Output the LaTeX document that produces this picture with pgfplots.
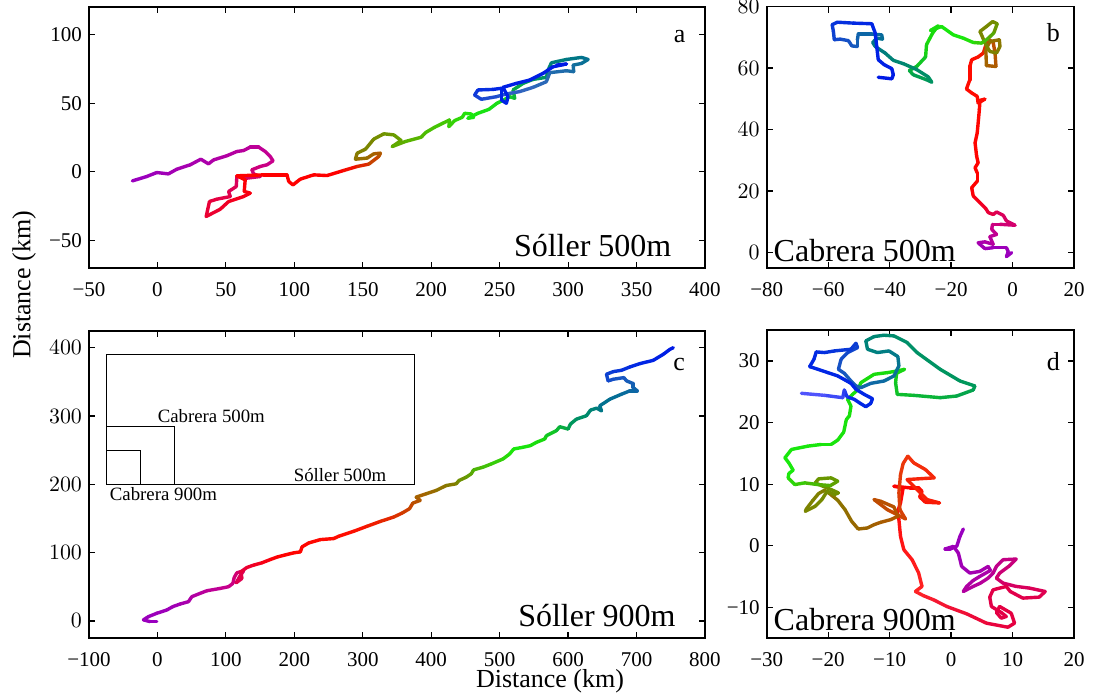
\documentclass[border=0pt]{standalone}
\usepackage{fontspec}
\setmainfont{Liberation Serif}
\usepackage{pgfplots}
\pgfplotsset{compat=1.18}
\pgfplotsset{
  colormap={mapa}{rgb(0pt)=(0.6,0,0.75) rgb(17pt)=(0.78,0,0.55) rgb(27pt)=(0.88,0,0.3) rgb(37pt)=(1,0,0) rgb(46pt)=(1,0,0) rgb(49pt)=(0.75,0.3,0) rgb(55pt)=(0.5,0.5,0) rgb(62pt)=(0.35,0.7,0) rgb(72pt)=(0.1,0.92,0.05) rgb(78pt)=(0.1,0.85,0.1) rgb(82pt)=(0,0.6,0.35) rgb(88pt)=(0,0.45,0.55) rgb(97pt)=(0.2,0.4,0.75) rgb(104pt)=(0,0.15,0.9) rgb(115pt)=(0,0.1,0.9)},
  colormap={mapb}{rgb(0pt)=(0.6,0,0.75) rgb(5pt)=(0.62,0,0.72) rgb(11pt)=(0.78,0,0.55) rgb(18pt)=(0.88,0,0.3) rgb(23pt)=(1,0,0) rgb(42pt)=(1,0.05,0) rgb(46pt)=(0.75,0.3,0) rgb(54pt)=(0.5,0.5,0) rgb(60pt)=(0.45,0.55,0) rgb(65pt)=(0.1,0.92,0.05) rgb(71pt)=(0.1,0.85,0.05) rgb(76pt)=(0,0.6,0.35) rgb(85pt)=(0,0.45,0.55) rgb(92pt)=(0.1,0.35,0.75) rgb(100pt)=(0,0.15,0.9) rgb(108pt)=(0,0.1,0.9)},
  colormap={mapc}{rgb(0pt)=(0.6,0,0.75) rgb(6pt)=(0.62,0,0.72) rgb(13pt)=(0.78,0,0.55) rgb(20pt)=(0.88,0,0.3) rgb(26pt)=(1,0,0) rgb(35pt)=(1,0.05,0) rgb(41pt)=(0.75,0.3,0) rgb(47pt)=(0.5,0.5,0) rgb(56pt)=(0.1,0.92,0.05) rgb(60pt)=(0.1,0.85,0.05) rgb(65pt)=(0,0.6,0.35) rgb(71pt)=(0,0.45,0.55) rgb(79pt)=(0.1,0.35,0.75) rgb(86pt)=(0,0.15,0.9) rgb(90pt)=(0,0.1,0.9)},
  colormap={mapd}{rgb(0pt)=(0.6,0,0.75) rgb(6pt)=(0.62,0,0.72) rgb(18pt)=(0.72,0,0.6) rgb(30pt)=(0.88,0,0.3) rgb(44pt)=(0.9,0,0.25) rgb(50pt)=(1,0.15,0.15) rgb(60pt)=(1,0,0) rgb(72pt)=(0.95,0.2,0.05) rgb(80pt)=(0.75,0.3,0) rgb(88pt)=(0.6,0.4,0) rgb(94pt)=(0.5,0.5,0) rgb(108pt)=(0.4,0.6,0) rgb(114pt)=(0.1,0.92,0.05) rgb(134pt)=(0.1,0.85,0.05) rgb(142pt)=(0,0.6,0.35) rgb(152pt)=(0,0.5,0.5) rgb(162pt)=(0.1,0.35,0.75) rgb(172pt)=(0,0.15,0.9) rgb(185pt)=(0,0.15,0.9) rgb(190pt)=(0.35,0.35,1)},
  myaxis/.style={
    scale only axis, anchor=south west,
    axis line style={line width=0.9pt},
    every tick/.style={black, line width=0.6pt},
    major tick length=3pt,
    tick align=inside,
    xtick pos=both, ytick pos=both,
    tick label style={font=\fontsize{10.5}{12}\selectfont},
    xticklabel style={anchor=base, yshift=-14.4pt},
    yticklabel style={anchor=east},
  },
  trajline/.style={mesh, point meta=\coordindex, line width=1.7pt, line cap=round, line join=round},
}
\begin{document}
\begin{tikzpicture}
\useasboundingbox (0,0) rectangle (548.5pt,350pt);
% ---------------- panel a
\begin{axis}[myaxis, colormap name=mapa, at={(44.5pt,216pt)}, width=308pt, height=130.5pt,
  xmin=-50, xmax=400, ymin=-70, ymax=120,
  xtick={-50,0,50,100,150,200,250,300,350,400},
  xticklabels={−50,0,50,100,150,200,250,300,350,400},
  ytick={-50,0,50,100}, yticklabels={−50,0,50,100}]
\addplot[trajline] coordinates {
(-18.3,-6.6) (-7.8,-3.4) (-0.5,-0.5) (8.0,-1.5) (14.1,1.9) (23.9,5.1) (31.7,9.2) (37.3,5.8) (41.0,8.7) (50.7,11.7) (58.0,14.8) (62.9,15.5) (67.8,18.0) (73.9,18.0) (78.8,14.8) (82.4,11.2) (84.4,8.0) (80.0,5.1) (75.1,3.9) (69.0,1.5) (70.2,-1.5) (75.1,-3.4) (65.4,-4.6) (58.0,-3.4) (57.6,-10.7) (52.0,-14.3) (53.2,-18.0) (43.4,-19.9) (38.0,-21.6) (35.6,-32.5) (45.9,-27.2) (52.0,-21.6) (62.9,-18.0) (67.8,-15.5) (63.4,-14.3) (64.1,-5.8) (58.0,-2.9) (77.6,-2.2) (94.6,-2.2) (95.9,-7.0) (99.0,-9.5) (104.4,-5.3) (114.1,-2.2) (123.9,-2.7) (136.1,1.0) (145.9,3.9) (154.4,5.6) (161.7,11.2) (162.9,13.6) (158.0,13.1) (153.2,10.0) (144.6,9.2) (145.9,13.6) (152.0,16.5) (158.0,23.8) (165.4,27.7) (172.7,26.9) (178.0,22.8) (171.5,18.4) (181.2,22.1) (192.7,25.2) (195.9,28.6) (202.4,32.4) (213.4,37.8) (212.9,32.9) (217.1,37.3) (222.7,39.7) (224.4,42.6) (229.3,42.1) (231.0,39.7) (226.8,39.0) (234.1,42.6) (242.2,45.5) (248.0,49.9) (252.9,52.3) (257.3,54.7) (261.0,53.5) (259.8,59.6) (267.1,64.4) (274.4,67.3) (284.1,68.8) (285.4,74.1) (287.8,79.4) (298.8,81.8) (309.8,83.3) (314.6,81.8) (309.8,78.9) (303.7,77.7) (304.1,72.9) (298.8,73.6) (286.6,72.2) (284.1,65.6) (274.4,61.5) (264.6,58.4) (254.9,56.7) (247.6,54.7) (236.6,52.8) (231.7,55.9) (234.1,59.6) (245.1,60.0) (251.2,60.8) (251.2,52.3) (254.9,49.9) (256.1,54.7) (252.4,61.5) (262.2,64.4) (271.9,66.8) (281.7,71.7) (289.0,76.5) (298.8,78.5) (291.5,77.7)
};
\node[anchor=base, font=\fontsize{13}{15}\selectfont] at (rel axis cs:0.959,0.865) {a};
\node[anchor=base east, inner sep=0pt, font=\fontsize{16}{19}\selectfont] at (rel axis cs:0.946,0.043) {Sóller 500m};
\end{axis}
% ---------------- panel b
\begin{axis}[myaxis, colormap name=mapb, at={(383.35pt,216pt)}, width=153.65pt, height=130.75pt,
  xmin=-80, xmax=20, ymin=-5, ymax=80,
  xtick={-80,-60,-40,-20,0,20},
  xticklabels={−80,−60,−40,−20,0,20},
  ytick={0,20,40,60,80}]
\addplot[trajline] coordinates {
(-0.3,0) (-2.0,-1.3) (-1.4,0.3) (-2.0,1.6) (-6.3,1.6) (-9.0,1.3) (-11.2,3.2) (-9.0,3.5) (-6.3,2.7) (-7.4,5.2) (-5.2,5.9) (-6.8,7.6) (-6.5,9.2) (-4.1,9.2) (0.8,8.9) (-2.0,10.3) (-3.0,12.1) (-5.2,13.2) (-6.3,12.4) (-7.9,13.0) (-8.7,14.3) (-10.6,16.2) (-12.8,18.4) (-13.3,21.1) (-11.5,23.2) (-11.5,25.9) (-12.2,27.6) (-11.2,29.2) (-11.7,31.4) (-12.2,35.7) (-11.5,38.9) (-11.1,43.2) (-10.8,46.5) (-10.6,49.5) (-9.0,49.9) (-11.2,48.6) (-11.5,50.8) (-13.3,51.9) (-15.0,53.2) (-13.9,56.2) (-13.9,60.5) (-13.3,62.7) (-11.2,63.6) (-9.5,64.9) (-8.5,68.1) (-7.9,69.4) (-6.3,68.3) (-5.7,64.9) (-5.4,60.5) (-8.5,60.8) (-8.7,65.9) (-7.4,68.6) (-4.3,69.2) (-4.1,67.0) (-5.2,64.9) (-7.4,65.4) (-8.7,67.6) (-10.6,71.9) (-8.5,73.5) (-6.5,75.1) (-5.0,74.4) (-6.1,71.4) (-8.2,69.4) (-10.1,68.1) (-12.8,68.3) (-16.0,69.7) (-19.3,70.8) (-23.1,73.5) (-26.7,72.2) (-24.2,73.7) (-26.0,71.4) (-28.0,67.6) (-28.3,63.6) (-31.2,60.5) (-33.6,59.2) (-32.3,57.8) (-28.0,56.2) (-26.3,55.4) (-27.4,57.1) (-31.2,59.5) (-35.5,61.4) (-38.8,62.5) (-41.5,64.9) (-44.7,67.0) (-45.5,68.3) (-44.2,69.7) (-42.3,69.4) (-42.6,70.8) (-45.8,71.0) (-50.2,71.0) (-50.5,69.2) (-50.5,67.0) (-52.3,67.2) (-53.4,68.9) (-56.1,69.4) (-58.0,69.2) (-58.3,71.9) (-58.7,74.1) (-57.0,74.9) (-51.8,74.6) (-45.8,74.4) (-44.7,71.4) (-44.2,67.0) (-43.7,62.7) (-41.8,61.1) (-39.3,59.8) (-38.8,57.8) (-39.3,56.5) (-43.7,57.0)
};
\node[anchor=base, font=\fontsize{13}{15}\selectfont] at (rel axis cs:0.933,0.865) {b};
\node[anchor=base west, inner sep=0pt, font=\fontsize{16}{19}\selectfont] at (rel axis cs:0.0215,0.024) {Cabrera 500m};
\end{axis}
% ---------------- panel c
\begin{axis}[myaxis, colormap name=mapc, at={(44.5pt,31pt)}, width=308pt, height=153.65pt,
  xmin=-100, xmax=800, ymin=-25, ymax=425,
  xtick={-100,0,100,200,300,400,500,600,700,800},
  xticklabels={−100,0,100,200,300,400,500,600,700,800},
  ytick={0,100,200,300,400}]
\addplot[black, line width=0.5pt] coordinates {(-75,200) (375,200) (375,390) (-75,390) (-75,200)};
\addplot[black, line width=0.5pt] coordinates {(-75,200) (25,200) (25,285) (-75,285) (-75,200)};
\addplot[black, line width=0.5pt] coordinates {(-75,200) (-25,200) (-25,250) (-75,250) (-75,200)};
\node[anchor=base west, inner sep=0pt, font=\fontsize{9.4}{11}\selectfont] at (axis cs:0,290) {Cabrera 500m};
\node[anchor=base west, inner sep=0pt, font=\fontsize{9.4}{11}\selectfont] at (axis cs:-70,176.5) {Cabrera 900m};
\node[anchor=base east, inner sep=0pt, font=\fontsize{9.4}{11}\selectfont] at (axis cs:335,204.6) {Sóller 500m};
\addplot[trajline] coordinates {
(-1.0,-1.0) (-10.7,-1.0) (-20.5,1.5) (-13.2,6.3) (-1.0,11.2) (13.7,16.0) (22.4,20.9) (33.2,24.8) (45.4,28.2) (50.2,35.5) (62.4,40.4) (72.2,44.2) (91.7,47.6) (103.9,50.1) (110.2,54.9) (112.2,63.7) (116.1,70.5) (125.9,73.4) (120.0,64.7) (115.1,55.9) (123.4,62.2) (122.0,72.0) (130.7,78.3) (140.5,81.7) (152.7,85.1) (164.9,89.9) (175.6,93.8) (185.4,96.3) (199.0,99.7) (208.8,101.1) (211.2,108.4) (221.0,114.2) (238.0,119.1) (257.6,120.6) (264.9,124.0) (286.8,131.3) (306.3,138.6) (325.9,145.8) (345.4,152.2) (357.6,158.0) (368.3,164.3) (373.2,172.6) (383.9,176.5) (378.0,181.3) (392.7,186.2) (407.3,191.1) (422.0,198.3) (436.6,200.8) (440.5,205.6) (451.2,210.5) (458.5,215.4) (461.9,221.2) (475.6,225.1) (487.8,229.9) (504.9,237.2) (514.6,244.5) (520.5,251.8) (534.1,254.3) (544.9,256.7) (553.7,261.5) (565.9,266.4) (568.3,271.3) (582.9,278.6) (587.8,284.4) (600.0,281.0) (603.4,288.3) (612.2,295.6) (626.8,300.4) (632.7,308.7) (641.5,311.6) (648.8,307.7) (646.3,315.0) (661.0,324.7) (678.0,332.0) (690.2,336.9) (701.0,336.9) (695.1,341.8) (695.1,347.6) (685.4,351.5) (681.5,356.3) (665.9,353.9) (658.5,351.5) (656.1,361.2) (665.9,365.1) (678.0,367.0) (690.2,371.9) (704.9,376.8) (724.4,381.6) (739.0,390.4) (748.8,397.7) (753.7,400.1)
};
\node[anchor=base, font=\fontsize{13}{15}\selectfont] at (rel axis cs:0.958,0.872) {c};
\node[anchor=base east, inner sep=0pt, font=\fontsize{16}{19}\selectfont] at (rel axis cs:0.953,0.037) {Sóller 900m};
\end{axis}
% ---------------- panel d
\begin{axis}[myaxis, colormap name=mapd, at={(383.35pt,31pt)}, width=153.65pt, height=153.85pt,
  xmin=-30, xmax=20, ymin=-15, ymax=35,
  xtick={-30,-20,-10,0,10,20},
  xticklabels={−30,−20,−10,0,10,20},
  ytick={-10,0,10,20,30}, yticklabels={−10,0,10,20,30}]
\addplot[trajline] coordinates {
(1.99,2.71) (1.45,1.52) (0.91,-0.11) (-0.16,-0.54) (-0.97,-0.54) (0.38,-0.11) (1.18,-1.19) (1.72,-3.37) (3.06,-4.45) (4.68,-4.18) (6.02,-3.37) (6.40,-4.02) (4.68,-4.99) (3.60,-5.65) (2.53,-6.62) (1.99,-7.44) (3.60,-6.62) (4.78,-6.08) (6.02,-5.27) (6.83,-4.45) (7.37,-3.37) (8.44,-2.28) (10.59,-2.17) (9.52,-3.26) (7.90,-4.45) (7.37,-5.27) (8.44,-6.08) (10.59,-6.62) (12.74,-6.89) (15.32,-7.44) (14.35,-8.36) (11.67,-8.52) (9.62,-7.44) (8.98,-6.62) (6.83,-7.17) (6.29,-8.36) (6.56,-9.88) (8.17,-10.86) (8.98,-11.51) (8.17,-11.78) (7.37,-10.86) (7.90,-9.88) (9.78,-10.97) (10.32,-12.59) (9.25,-13.25) (5.75,-12.59) (2.53,-11.07) (-0.70,-9.88) (-2.85,-8.79) (-4.46,-8.14) (-5.81,-7.44) (-4.73,-6.62) (-5.27,-4.45) (-6.34,-2.28) (-7.69,-0.65) (-8.23,1.52) (-8.49,4.23) (-8.76,5.32) (-8.23,6.95) (-7.80,9.39) (-9.30,9.66) (-6.61,9.39) (-5.27,9.39) (-4.73,8.85) (-5.11,7.93) (-4.19,7.06) (-1.88,6.95) (-3.92,7.49) (-7.15,10.75) (-2.74,11.02) (-4.19,12.38) (-6.08,13.46) (-7.04,14.55) (-7.80,13.36) (-8.23,11.56) (-8.49,8.58) (-8.33,5.86) (-7.42,4.34) (-8.76,5.05) (-10.38,5.86) (-12.53,7.49) (-11.45,7.22) (-9.30,6.30) (-8.66,4.78) (-9.84,4.23) (-11.45,3.80) (-12.53,3.42) (-13.60,2.88) (-15.11,2.71) (-16.18,3.96) (-17.26,5.86) (-18.44,7.38) (-19.78,8.47) (-20.59,9.01) (-21.56,8.47) (-22.47,7.38) (-23.55,5.97) (-23.71,5.59) (-22.10,6.41) (-21.02,7.49) (-20.16,8.85) (-18.98,8.31) (-18.33,8.58) (-19.52,9.12) (-20.86,9.66) (-22.10,10.21) (-21.56,10.86) (-19.52,11.02) (-18.44,10.48) (-19.62,9.77) (-21.67,9.93) (-23.82,10.21) (-25.43,9.93) (-26.51,11.02) (-26.40,11.73) (-25.70,12.27) (-26.40,13.46) (-27.04,14.28) (-25.97,15.64) (-23.28,16.18) (-21.13,16.45) (-19.52,16.45) (-18.44,17.16) (-17.47,18.46) (-17.04,20.52) (-16.56,21.06) (-16.29,22.69) (-16.83,23.78) (-16.02,24.59) (-15.11,25.41) (-14.68,26.49) (-12.53,27.85) (-10.38,28.12) (-8.76,28.39) (-7.58,28.66) (-8.87,28.01) (-9.03,26.49) (-8.76,24.59) (-6.08,24.43) (-1.77,24.05) (0.91,24.32) (3.60,25.30) (3.87,25.95) (1.45,26.76) (-1.77,28.66) (-5.54,31.38) (-7.15,33.01) (-9.30,34.09) (-10.91,34.20) (-12.53,33.98) (-13.87,33.28) (-13.60,31.92) (-11.99,31.38) (-10.11,31.65) (-8.66,30.73) (-8.49,29.21) (-9.30,27.58) (-10.91,26.76) (-13.06,26.38) (-14.68,25.68) (-15.48,25.95) (-16.29,26.76) (-17.37,28.01) (-18.33,28.66) (-17.90,30.29) (-16.83,31.38) (-15.22,32.19) (-15.48,32.90) (-16.29,31.92) (-18.98,31.65) (-20.59,31.38) (-21.94,31.49) (-22.31,30.29) (-23.01,29.10) (-21.67,28.66) (-20.05,28.12) (-18.44,27.58) (-17.26,26.93) (-16.29,26.38) (-15.48,25.41) (-14.14,24.59) (-12.80,23.89) (-13.06,23.13) (-13.87,22.58) (-14.78,23.13) (-15.75,23.78) (-16.94,24.21) (-17.37,25.30) (-17.63,24.05) (-20.59,24.43) (-24.35,24.76)
};
\node[anchor=base, font=\fontsize{13}{15}\selectfont] at (rel axis cs:0.933,0.868) {d};
\node[anchor=base west, inner sep=0pt, font=\fontsize{16}{19}\selectfont] at (rel axis cs:0.0215,0.025) {Cabrera 900m};
\end{axis}
% ---------------- shared labels
\node[anchor=base, font=\fontsize{13}{15}\selectfont] at (275pt,6.3pt) {Distance (km)};
\node[rotate=90, anchor=center, font=\fontsize{13}{15}\selectfont] at (12pt,207.5pt) {Distance (km)};
\end{tikzpicture}
\end{document}
